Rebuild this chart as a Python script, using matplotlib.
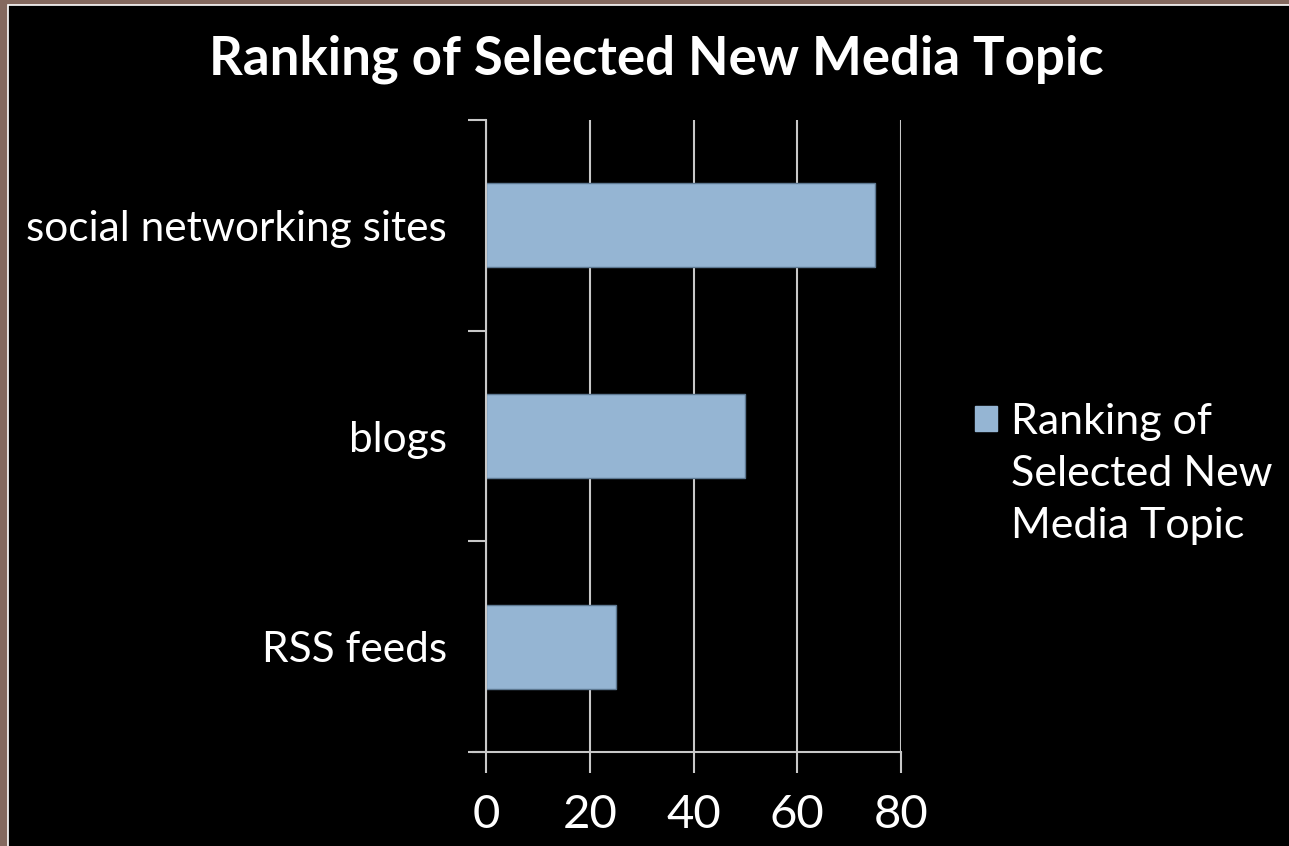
import matplotlib
matplotlib.use("Agg")
import matplotlib.pyplot as plt
from matplotlib.patches import Rectangle
from matplotlib.ticker import FixedLocator

# Data
categories = ["RSS feeds", "blogs", "social networking sites"]
values = [25, 50, 75]
series_name = "Ranking of\nSelected New\nMedia Topic"
title = "Ranking of Selected New Media Topic"
x_ticks = [0, 20, 40, 60, 80]

bar_color = "#95b5d3"
grid_color = "#c8c8c8"
plt.rcParams['font.family'] = ['Lato', 'DejaVu Sans']

fig = plt.figure(figsize=(12.89, 8.46), dpi=100, facecolor="#84695f")

# black slide area with thin white edge
fig.patches.append(Rectangle((8 / 1289, -0.01), 1.0, (846 - 5) / 846 + 0.01,
                             transform=fig.transFigure, facecolor="black",
                             edgecolor="white", linewidth=1.2, zorder=-10))

ax = fig.add_axes([486 / 1289, (846 - 752) / 846, 415 / 1289, (752 - 120) / 846])
ax.set_facecolor("black")

y = range(len(categories))
ax.barh(y, values, height=0.4, color=bar_color, edgecolor="#5d7891",
        linewidth=1, label=series_name, zorder=3)

ax.set_xlim(0, 80)
ax.set_ylim(-0.5, len(categories) - 0.5)
ax.set_xticks(x_ticks)
ax.set_yticks(list(y))
ax.set_yticklabels(categories)
ax.yaxis.set_minor_locator(FixedLocator([-0.5, 0.5, 1.5, 2.5]))

ax.grid(axis="x", color=grid_color, linewidth=1.5, zorder=1)
for s in ["top", "right"]:
    ax.spines[s].set_visible(False)
for s in ["left", "bottom"]:
    ax.spines[s].set_color(grid_color)
    ax.spines[s].set_linewidth(1.5)
    ax.spines[s].set_zorder(4)

ax.tick_params(axis="y", which="major", length=0, pad=28, labelsize=30.5,
               labelcolor="white")
ax.tick_params(axis="y", which="minor", length=13, width=1.5, color=grid_color)
ax.tick_params(axis="x", length=15, width=1.5, color=grid_color, pad=15,
               labelsize=34, labelcolor="white")

# extend x axis line to the left like the original
ax.plot([-13 / 415 * 80, 0], [-0.5, -0.5], color=grid_color, linewidth=1.5,
        clip_on=False, zorder=4)

fig.text(656 / 1289, 1 - 59 / 846, title, ha="center", va="center",
         color="white", fontsize=38, fontweight="bold")

leg = ax.legend(loc="center left", bbox_to_anchor=(1.178, 0.44),
                frameon=False, fontsize=31, labelcolor="white",
                handlelength=0.51, handleheight=0.51, handletextpad=0.32,
                borderaxespad=0, borderpad=0)
leg.get_texts()[0].set_linespacing(1.45)
# put the legend key next to the first line of the label
h = leg.legend_handles[0]
h.set_edgecolor(bar_color)
h.set_y(h.get_y() + 40)

fig.savefig("out.png", dpi=100, facecolor=fig.get_facecolor())
